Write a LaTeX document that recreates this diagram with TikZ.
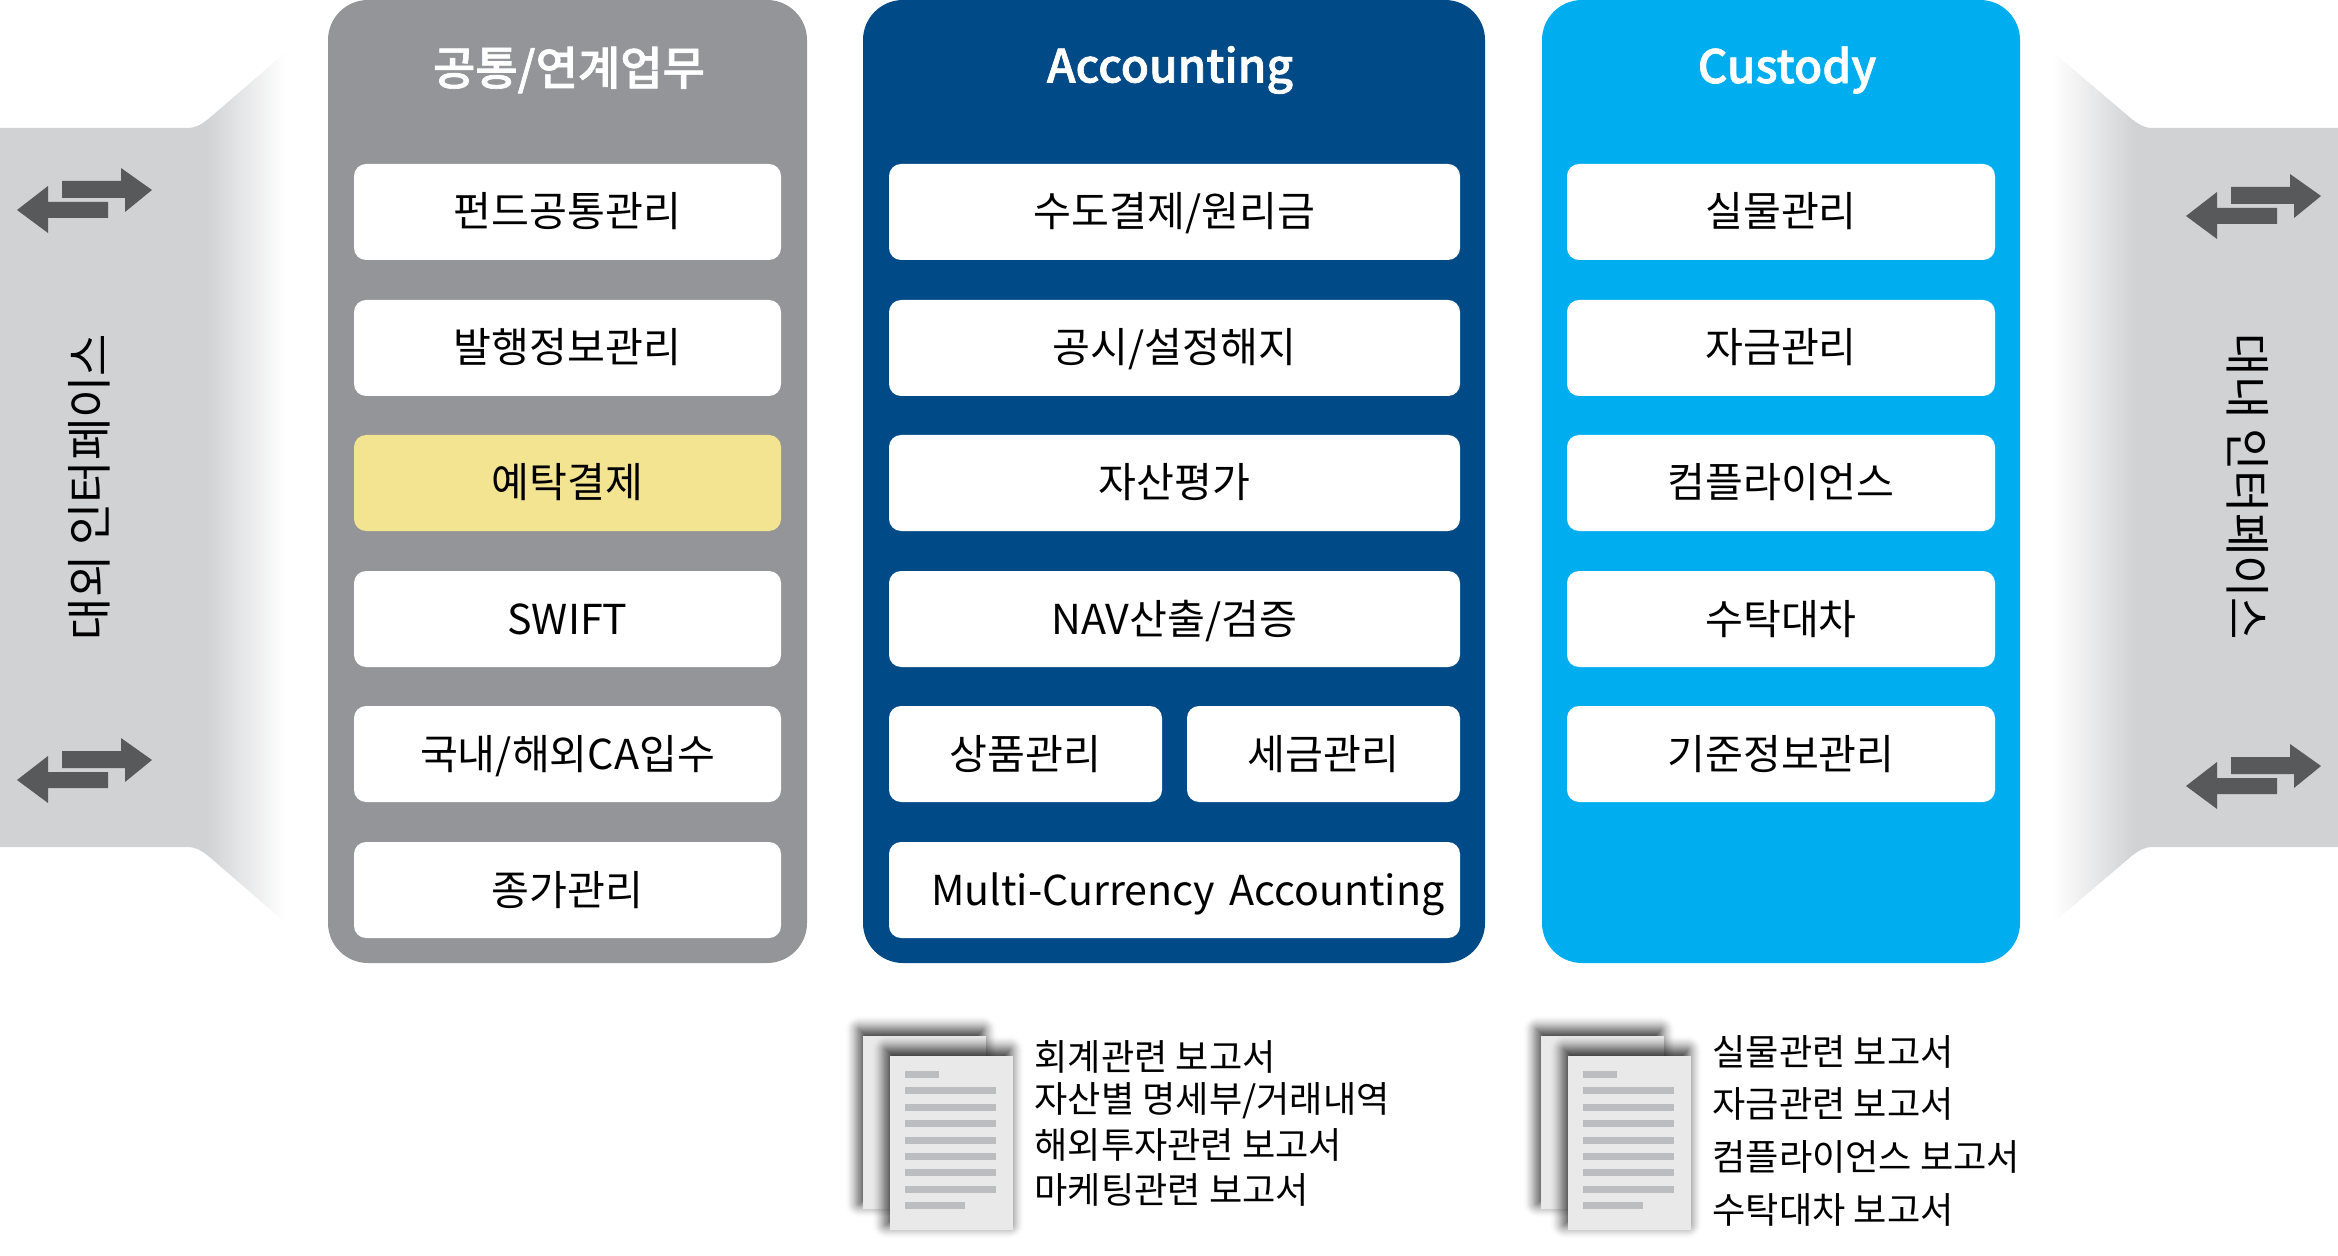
\documentclass[tikz,border=0pt]{standalone}
\usepackage{fontspec}
\setmainfont{Noto Sans CJK KR}
\newfontfamily\titlefont[FakeBold=1.5]{Noto Sans CJK KR Medium}
\usetikzlibrary{positioning}
\definecolor{panelgray}{HTML}{939598}
\definecolor{panelblue}{HTML}{004A87}
\definecolor{panelcyan}{HTML}{00AEEF}
\definecolor{pickyellow}{HTML}{F2E491}
\definecolor{sidegray}{HTML}{D1D2D4}
\definecolor{arrowgray}{HTML}{58595B}
\definecolor{pagegray}{HTML}{E9E9EA}
\definecolor{linegray}{HTML}{BCBDC0}
\tikzset{
	panel/.style={rounded corners=20pt,minimum height=481.5pt,inner sep=0pt},
	paneltitle/.style={text=white,font=\fontsize{23}{27}\selectfont\titlefont},
	itembox/.style={fill=white,rounded corners=6pt,minimum height=48pt,inner sep=0pt,text height=16.5pt,text depth=1.5pt,font=\fontsize{20.6}{24}\selectfont},
	sidetext/.style={font=\fontsize{23}{27}\selectfont},
	reptext/.style={anchor=west,inner sep=0pt,font=\fontsize{18.1}{22}\selectfont},
	swaparrows/.pic={
		\fill[arrowgray] (45,-9) -- (104,-9) -- (104,-22) -- (135,0) -- (108,22) -- (108,8) -- (45,8) -- cycle;
		\fill[arrowgray] (91,12) -- (31,12) -- (31,-4) -- (0,20) -- (31,43) -- (31,28) -- (91,28) -- cycle;
	},
	docstack/.pic={
		% shadows of the two sheets
		\foreach \r [evaluate=\r as \op using {.0045*(16-\r)}] in {15,...,-6}
			\fill[black,opacity=\op,rounded corners={max(\r,0)*.5pt}] (-3.5-\r,-6-\r) rectangle (123-3.5+\r,173-6+\r);
		\fill[pagegray] (0,0) rectangle (123,173);
		\foreach \r [evaluate=\r as \op using {.0045*(16-\r)}] in {15,...,-6}
			\fill[black,opacity=\op,rounded corners={max(\r,0)*.5pt}] (27-3.5-\r,20-6-\r) rectangle (150-3.5+\r,194-6+\r);
		\fill[pagegray] (27,20) rectangle (150,194);
		% the text lines on the sheet
		\fill[linegray] (42,35) rectangle (76,42);
		\foreach \l in {1,...,7}
			\fill[linegray] (42,35+16.4*\l) rectangle (133,42+16.4*\l);
		\fill[linegray] (42,166) rectangle (102,173);
	}
}
\begin{document}
\begin{tikzpicture}[x=0.5pt,y=-0.5pt]
	\useasboundingbox (0,0) rectangle (2338,1256);
	% the interface bands on both sides
	\fill[sidegray] (0,128) -- (187,128) to[out=0,in=217] (207,120) -- (207,855) to[out=143,in=0] (187,847) -- (0,847) -- cycle;
	\shade[left color=sidegray,right color=white]
	(206,121) -- (286,52) -- (286,923) -- (206,854) -- cycle;
	\fill[sidegray] (2338,128) -- (2153,128) to[out=180,in=-37] (2133,120) -- (2133,855) to[out=37,in=180] (2153,847) -- (2338,847) -- cycle;
	\shade[right color=sidegray,left color=white]
	(2134,121) -- (2053,52) -- (2053,923) -- (2134,854) -- cycle;
	
	\pic at (17,190) {swaparrows};
	\pic at (17,760) {swaparrows};
	\pic at (2186,196) {swaparrows};
	\pic at (2186,766) {swaparrows};
	
	\node[sidetext,rotate=90] (leftside) at (89,487) {대외 인터페이스};
	\node[sidetext,rotate=-90] (rightside) at (2248,487) {대내 인터페이스};
	
	% the three panels
	\node[panel,fill=panelgray,minimum width=239.5pt] (common) at (567.5,481.5) {};
	\node[panel,fill=panelblue,minimum width=311pt] (accounting) at (1174,481.5) {};
	\node[panel,fill=panelcyan,minimum width=239pt] (custody) at (1781,481.5) {};
	\node[paneltitle] (commontitle) at (569,70) {공통/연계업무};
	\node[paneltitle] (accountingtitle) at (1170,70) {Accounting};
	\node[paneltitle] (custodytitle) at (1787,70) {Custody};
	
	% boxes of the first panel
	\foreach \n/\y/\col/\texto in {1/212/white/{펀드공통관리},2/348/white/{발행정보관리},3/483/pickyellow/{예탁결제},4/619/white/{SWIFT},5/754/white/{국내/해외CA입수},6/890/white/{종가관리}}
	{
		\node[itembox,fill=\col,minimum width=213.5pt] (common\n) at (567.5,\y) {\texto};
	}
	% boxes of the second panel
	\foreach \n/\y/\texto in {1/212/{수도결제/원리금},2/348/{공시/설정해지},3/483/{자산평가},4/619/{NAV산출/검증}}
	{
		\node[itembox,minimum width=285.5pt] (accounting\n) at (1174.5,\y) {\texto};
	}
	\node[itembox,minimum width=136.5pt] (accounting5) at (1025.5,754) {상품관리};
	\node[itembox,minimum width=136.5pt] (accounting6) at (1323.5,754) {세금관리};
	\node[itembox,minimum width=285.5pt,text width=285.5pt,align=left] (accounting7) at (1174.5,890) {\hspace*{21pt}Multi-Currency Accounting};
	% boxes of the third panel
	\foreach \n/\y/\texto in {1/212/{실물관리},2/348/{자금관리},3/483/{컴플라이언스},4/619/{수탁대차},5/754/{기준정보관리}}
	{
		\node[itembox,minimum width=214pt] (custody\n) at (1781,\y) {\texto};
	}
	
	% the reports under the panels
	\pic at (863,1036) {docstack};
	\pic at (1541,1036) {docstack};
	\foreach \n/\y/\texto in {1/1057/{회계관련 보고서},2/1101/{자산별 명세부/거래내역},3/1145/{해외투자관련 보고서},4/1190/{마케팅관련 보고서}}
	{
		\node[reptext] (reportA\n) at (1034,\y) {\texto};
	}
	\foreach \n/\y/\texto in {1/1052/{실물관련 보고서},2/1104/{자금관련 보고서},3/1157/{컴플라이언스 보고서},4/1210/{수탁대차 보고서}}
	{
		\node[reptext] (reportB\n) at (1712,\y) {\texto};
	}
\end{tikzpicture}
\end{document}
